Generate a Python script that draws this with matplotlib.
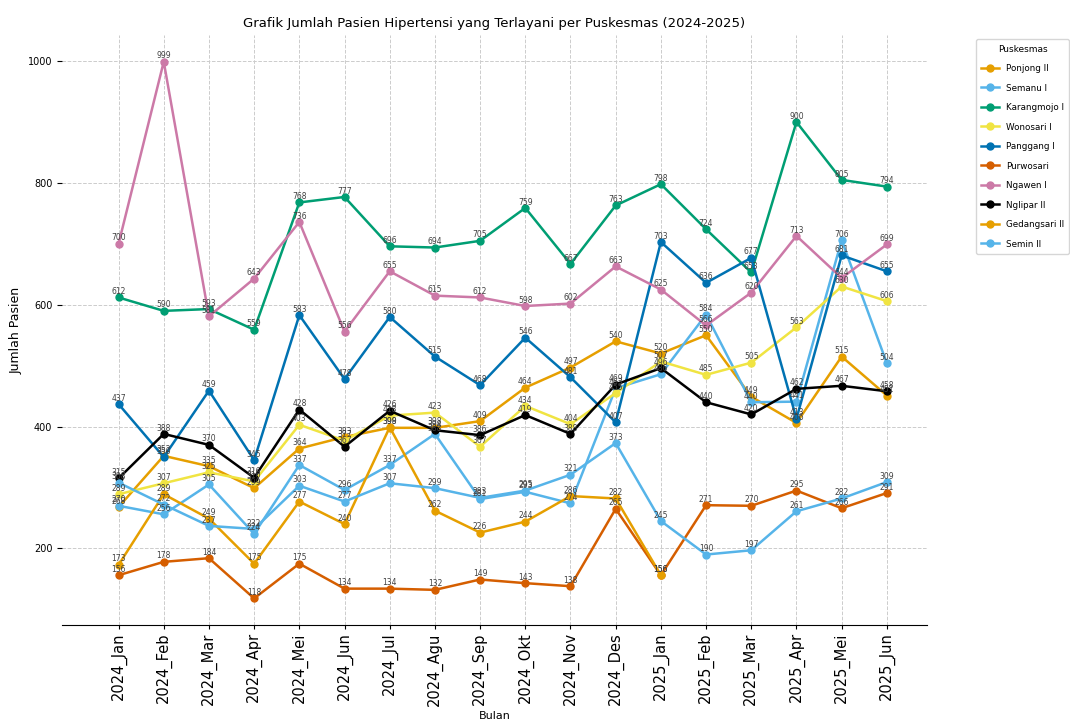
import numpy as np
import matplotlib
matplotlib.use("Agg")
import matplotlib.pyplot as plt
from matplotlib.ticker import MultipleLocator

nan = np.nan

#months on x axis
bulan = ["2024_Jan", "2024_Feb", "2024_Mar", "2024_Apr", "2024_Mei", "2024_Jun",
         "2024_Jul", "2024_Agu", "2024_Sep", "2024_Okt", "2024_Nov", "2024_Des",
         "2025_Jan", "2025_Feb", "2025_Mar", "2025_Apr", "2025_Mei", "2025_Jun"]

#patients served per puskesmas
ponjong_2 = [268, 352, 335, 299, 364, 383, 398, 398, 409, 464, 497, 540, 520, 550, 449, 406, 515, 451]
semanu_1 = [270, 256, 305, 224, 337, 296, 337, 388, 281, 293, 274, 463, 486, 584, 440, 441, 706, 504]
karangmojo_1 = [612, 590, 593, 559, 768, 777, 696, 694, 705, 759, 667, 763, 798, 724, 653, 900, 805, 794]
wonosari_1 = [289, 307, 325, 310, 403, 377, 418, 423, 367, 434, 404, 455, 507, 485, 505, 563, 630, 606]
panggang_1 = [437, 350, 459, 345, 583, 478, 580, 515, 468, 546, 481, 407, 703, 636, 677, 413, 681, 655]
purwosari = [156, 178, 184, 118, 175, 134, 134, 132, 149, 143, 138, 265, 156, 271, 270, 295, 266, 291]
ngawen_1 = [700, 999, 581, 643, 736, 556, 655, 615, 612, 598, 602, 663, 625, 566, 620, 713, 644, 699]
nglipar_2 = [315, 388, 370, 316, 428, 367, 426, 394, 386, 419, 388, 469, 496, 440, 420, 462, 467, 458]
gedangsari_2 = [173, 289, 249, 175, 277, 240, 399, 262, 226, 244, 286, 282, 156, nan, nan, nan, nan, nan]
semin_2 = [308, 272, 237, 232, 303, 277, 307, 299, 283, 295, 321, 373, 245, 190, 197, 261, 282, 309]

series = {
    "Ponjong II": ponjong_2,
    "Semanu I": semanu_1,
    "Karangmojo I": karangmojo_1,
    "Wonosari I": wonosari_1,
    "Panggang I": panggang_1,
    "Purwosari": purwosari,
    "Ngawen I": ngawen_1,
    "Nglipar II": nglipar_2,
    "Gedangsari II": gedangsari_2,
    "Semin II": semin_2,
}

colors = ["#E69F00", "#56B4E9", "#009E73", "#F0E442", "#0072B2",
          "#D55E00", "#CC79A7", "#000000"]

fig = plt.figure(figsize=(10.7, 7.27), dpi=100)
ax = fig.add_axes([0.058, 0.14, 0.808, 0.812])

x = np.arange(len(bulan))
for i, (name, vals) in enumerate(series.items()):
    c = colors[i % len(colors)]
    ax.plot(x, vals, marker="o", markersize=5, linewidth=1.8, color=c, label=name)
    #value labels above each point
    for xi, v in zip(x, vals):
        if np.isnan(v):
            continue
        ax.annotate(f"{int(v)}", (xi, v), xytext=(0, 1), textcoords="offset points",
                    ha="center", va="bottom", fontsize=5.5, color="#404040")

ax.set_xticks(x)
ax.set_xticklabels(bulan, rotation=90, fontsize=10.5)
ax.set_xlim(-1.25, 17.88)
ax.yaxis.set_major_locator(MultipleLocator(200))
ax.tick_params(axis="y", labelsize=7)
ax.tick_params(axis="x", pad=2, length=3)
ax.grid(True, linestyle="--", color="#cccccc", linewidth=0.7)
ax.set_axisbelow(True)
for s in ["top", "right", "left"]:
    ax.spines[s].set_visible(False)

ax.set_title("Grafik Jumlah Pasien Hipertensi yang Terlayani per Puskesmas (2024-2025)", fontsize=9.5)
ax.set_xlabel("Bulan", fontsize=8)
ax.set_ylabel("Jumlah Pasien", fontsize=9)

ax.legend(title="Puskesmas", loc="upper left", bbox_to_anchor=(1.052, 1.0),
          fontsize=6.3, title_fontsize=6.5, labelspacing=1.2, handlelength=2.0,
          borderpad=0.6)

fig.savefig("out.png", dpi=100)
